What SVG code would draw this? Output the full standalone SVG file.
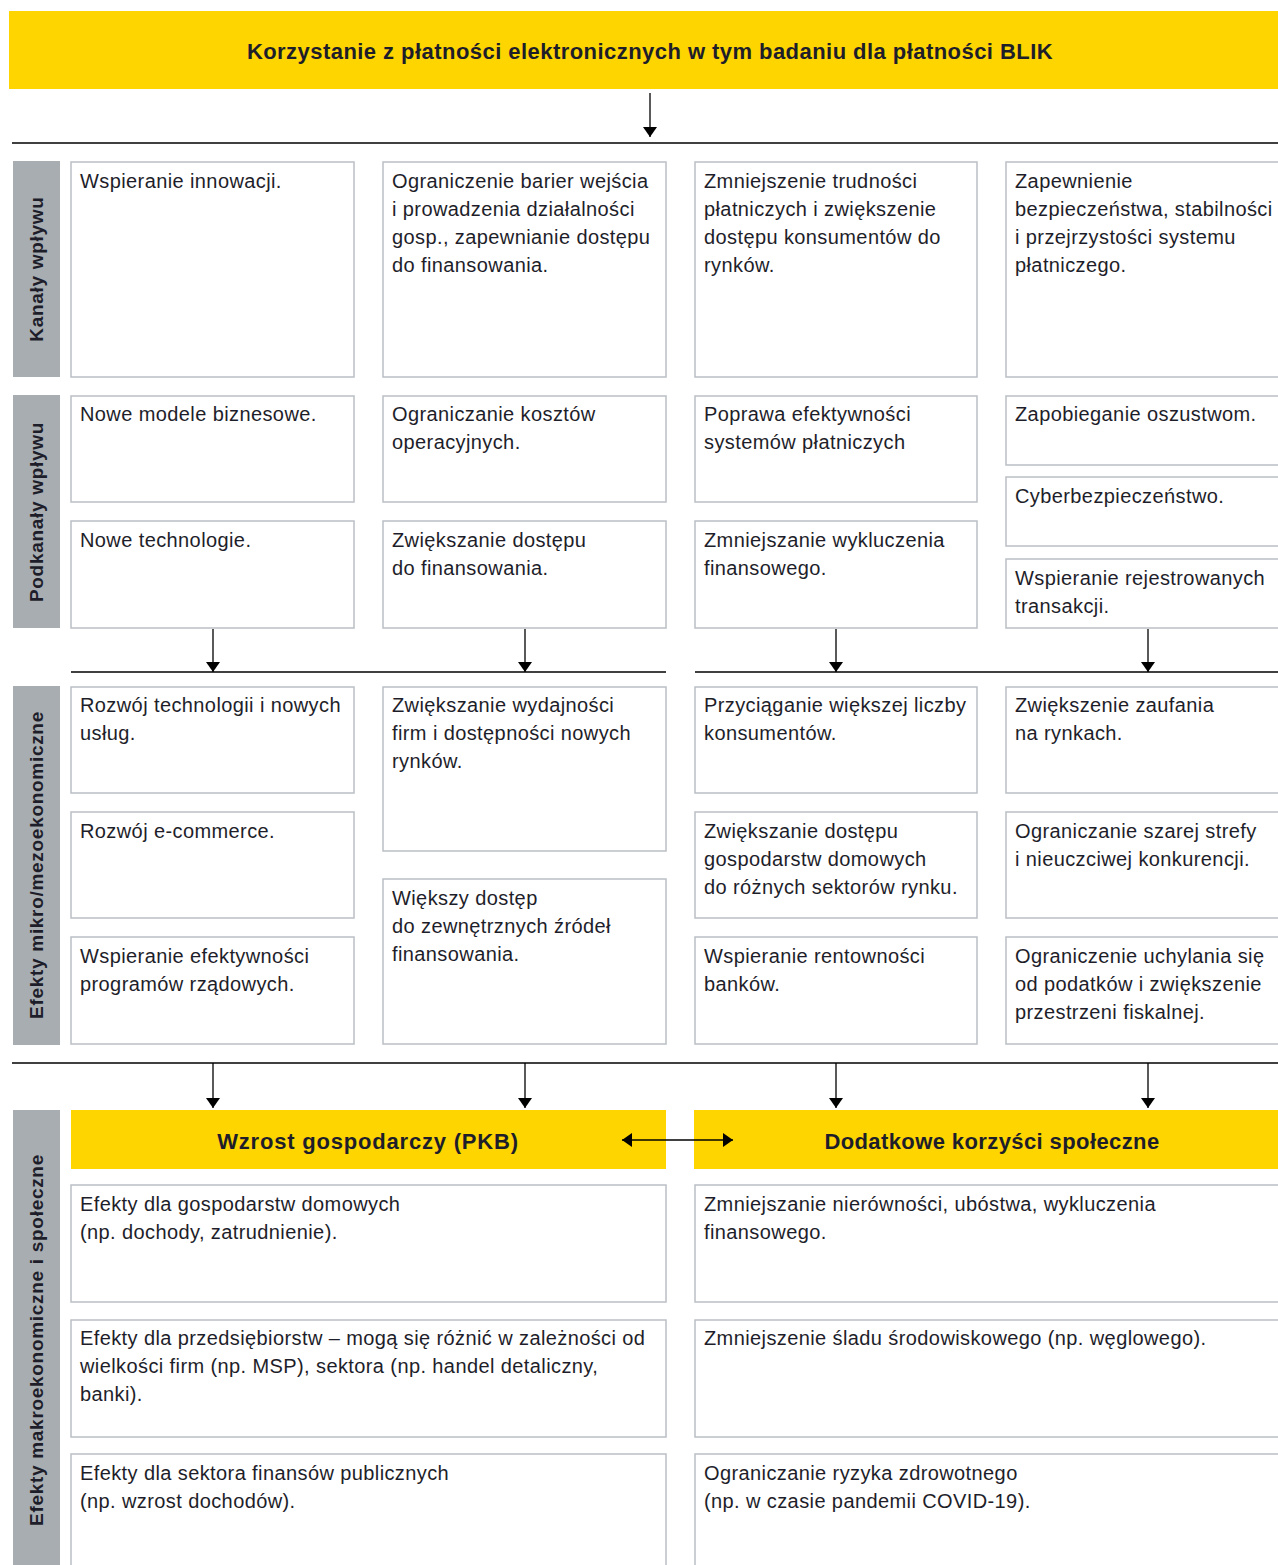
<svg xmlns="http://www.w3.org/2000/svg" width="1278" height="1565" viewBox="0 0 1278 1565">
<defs>
<style>
.bx{fill:#fff;stroke:#babfc4;stroke-width:1.5}
.side{fill:#a8adb2}
.yel{fill:#ffd500}
.t{font-family:"Liberation Sans",Arial,sans-serif;font-size:20px;letter-spacing:0.4px;fill:#1e1e2a}
.hb{font-family:"Liberation Sans",Arial,sans-serif;font-size:22px;font-weight:bold;fill:#1e1e2a;text-anchor:middle}
.sl{font-family:"Liberation Sans",Arial,sans-serif;font-size:19px;letter-spacing:0.7px;font-weight:bold;fill:#1e1e2a;text-anchor:middle}
.ln{stroke:#000;stroke-width:1.6;fill:none}
.ar{stroke:#000;stroke-width:1.3;fill:none}
</style>
<marker id="ah" viewBox="0 0 10 14" refX="10" refY="7" markerWidth="10" markerHeight="14" markerUnits="userSpaceOnUse" orient="auto">
<path d="M0,0 L10,7 L0,14 z" fill="#000"/>
</marker>
<marker id="as" viewBox="0 0 10 14" refX="0" refY="7" markerWidth="10" markerHeight="14" markerUnits="userSpaceOnUse" orient="auto">
<path d="M10,0 L0,7 L10,14 z" fill="#000"/>
</marker>
</defs>
<rect width="1278" height="1565" fill="#fff"/>

<g id="title">
<rect class="yel" x="9" y="11" width="1269" height="78"/>
<text class="hb" x="650" y="59" style="letter-spacing:0.45px">Korzystanie z płatności elektronicznych w tym badaniu dla płatności BLIK</text>
</g>

<g id="side-labels">
<g id="side-kanaly"><rect class="side" x="13" y="161" width="47" height="216"/><text class="sl" transform="translate(43,269) rotate(-90)">Kanały wpływu</text></g>
<g id="side-podkanaly"><rect class="side" x="13" y="395" width="47" height="233"/><text class="sl" transform="translate(43,512) rotate(-90)">Podkanały wpływu</text></g>
<g id="side-mikro"><rect class="side" x="13" y="686" width="47" height="359"/><text class="sl" transform="translate(43,865) rotate(-90)">Efekty mikro/mezoekonomiczne</text></g>
<g id="side-makro"><rect class="side" x="13" y="1110" width="47" height="460"/><text class="sl" transform="translate(43,1340) rotate(-90)">Efekty makroekonomiczne i społeczne</text></g>
</g>

<g id="connectors">
<line class="ln" x1="12" y1="143" x2="1278" y2="143"/>
<line class="ar" x1="650" y1="93" x2="650" y2="137" marker-end="url(#ah)"/>
<line class="ln" x1="71" y1="672" x2="666" y2="672"/>
<line class="ln" x1="695" y1="672" x2="1278" y2="672"/>
<line class="ar" x1="213" y1="629" x2="213" y2="672" marker-end="url(#ah)"/>
<line class="ar" x1="525" y1="629" x2="525" y2="672" marker-end="url(#ah)"/>
<line class="ar" x1="836" y1="629" x2="836" y2="672" marker-end="url(#ah)"/>
<line class="ar" x1="1148" y1="629" x2="1148" y2="672" marker-end="url(#ah)"/>
<line class="ln" x1="12" y1="1063" x2="1278" y2="1063"/>
<line class="ar" x1="213" y1="1063" x2="213" y2="1108" marker-end="url(#ah)"/>
<line class="ar" x1="525" y1="1063" x2="525" y2="1108" marker-end="url(#ah)"/>
<line class="ar" x1="836" y1="1063" x2="836" y2="1108" marker-end="url(#ah)"/>
<line class="ar" x1="1148" y1="1063" x2="1148" y2="1108" marker-end="url(#ah)"/>
</g>

<g id="k1"><rect class="bx" x="71" y="162" width="283" height="215"/><text class="t" x="80" y="188">Wspieranie innowacji.</text></g>
<g id="k2"><rect class="bx" x="383" y="162" width="283" height="215"/><text class="t" x="392" y="188"><tspan x="392">Ograniczenie barier wejścia</tspan><tspan x="392" dy="28">i prowadzenia działalności</tspan><tspan x="392" dy="28">gosp., zapewnianie dostępu</tspan><tspan x="392" dy="28">do finansowania.</tspan></text></g>
<g id="k3"><rect class="bx" x="695" y="162" width="282" height="215"/><text class="t" x="704" y="188"><tspan x="704">Zmniejszenie trudności</tspan><tspan x="704" dy="28">płatniczych i zwiększenie</tspan><tspan x="704" dy="28">dostępu konsumentów do</tspan><tspan x="704" dy="28">rynków.</tspan></text></g>
<g id="k4"><rect class="bx" x="1006" y="162" width="290" height="215"/><text class="t" x="1015" y="188"><tspan x="1015">Zapewnienie</tspan><tspan x="1015" dy="28">bezpieczeństwa, stabilności</tspan><tspan x="1015" dy="28">i przejrzystości systemu</tspan><tspan x="1015" dy="28">płatniczego.</tspan></text></g>

<g id="p1a"><rect class="bx" x="71" y="396" width="283" height="106"/><text class="t" x="80" y="421">Nowe modele biznesowe.</text></g>
<g id="p1b"><rect class="bx" x="71" y="521" width="283" height="107"/><text class="t" x="80" y="547">Nowe technologie.</text></g>
<g id="p2a"><rect class="bx" x="383" y="396" width="283" height="106"/><text class="t" x="392" y="421"><tspan x="392">Ograniczanie kosztów</tspan><tspan x="392" dy="28">operacyjnych.</tspan></text></g>
<g id="p2b"><rect class="bx" x="383" y="521" width="283" height="107"/><text class="t" x="392" y="547"><tspan x="392">Zwiększanie dostępu</tspan><tspan x="392" dy="28">do finansowania.</tspan></text></g>
<g id="p3a"><rect class="bx" x="695" y="396" width="282" height="106"/><text class="t" x="704" y="421"><tspan x="704">Poprawa efektywności</tspan><tspan x="704" dy="28">systemów płatniczych</tspan></text></g>
<g id="p3b"><rect class="bx" x="695" y="521" width="282" height="107"/><text class="t" x="704" y="547"><tspan x="704">Zmniejszanie wykluczenia</tspan><tspan x="704" dy="28">finansowego.</tspan></text></g>
<g id="p4a"><rect class="bx" x="1006" y="396" width="290" height="69"/><text class="t" x="1015" y="421">Zapobieganie oszustwom.</text></g>
<g id="p4b"><rect class="bx" x="1006" y="477" width="290" height="69"/><text class="t" x="1015" y="503">Cyberbezpieczeństwo.</text></g>
<g id="p4c"><rect class="bx" x="1006" y="559" width="290" height="69"/><text class="t" x="1015" y="585"><tspan x="1015">Wspieranie rejestrowanych</tspan><tspan x="1015" dy="28">transakcji.</tspan></text></g>

<g id="m1a"><rect class="bx" x="71" y="687" width="283" height="106"/><text class="t" x="80" y="712"><tspan x="80">Rozwój technologii i nowych</tspan><tspan x="80" dy="28">usług.</tspan></text></g>
<g id="m1b"><rect class="bx" x="71" y="812" width="283" height="106"/><text class="t" x="80" y="838">Rozwój e-commerce.</text></g>
<g id="m1c"><rect class="bx" x="71" y="937" width="283" height="107"/><text class="t" x="80" y="963"><tspan x="80">Wspieranie efektywności</tspan><tspan x="80" dy="28">programów rządowych.</tspan></text></g>
<g id="m2a"><rect class="bx" x="383" y="687" width="283" height="164"/><text class="t" x="392" y="712"><tspan x="392">Zwiększanie wydajności</tspan><tspan x="392" dy="28">firm i dostępności nowych</tspan><tspan x="392" dy="28">rynków.</tspan></text></g>
<g id="m2b"><rect class="bx" x="383" y="879" width="283" height="165"/><text class="t" x="392" y="905"><tspan x="392">Większy dostęp</tspan><tspan x="392" dy="28">do zewnętrznych źródeł</tspan><tspan x="392" dy="28">finansowania.</tspan></text></g>
<g id="m3a"><rect class="bx" x="695" y="687" width="282" height="106"/><text class="t" x="704" y="712"><tspan x="704">Przyciąganie większej liczby</tspan><tspan x="704" dy="28">konsumentów.</tspan></text></g>
<g id="m3b"><rect class="bx" x="695" y="812" width="282" height="106"/><text class="t" x="704" y="838"><tspan x="704">Zwiększanie dostępu</tspan><tspan x="704" dy="28">gospodarstw domowych</tspan><tspan x="704" dy="28">do różnych sektorów rynku.</tspan></text></g>
<g id="m3c"><rect class="bx" x="695" y="937" width="282" height="107"/><text class="t" x="704" y="963"><tspan x="704">Wspieranie rentowności</tspan><tspan x="704" dy="28">banków.</tspan></text></g>
<g id="m4a"><rect class="bx" x="1006" y="687" width="290" height="106"/><text class="t" x="1015" y="712"><tspan x="1015">Zwiększenie zaufania</tspan><tspan x="1015" dy="28">na rynkach.</tspan></text></g>
<g id="m4b"><rect class="bx" x="1006" y="812" width="290" height="106"/><text class="t" x="1015" y="838"><tspan x="1015">Ograniczanie szarej strefy</tspan><tspan x="1015" dy="28">i nieuczciwej konkurencji.</tspan></text></g>
<g id="m4c"><rect class="bx" x="1006" y="937" width="290" height="107"/><text class="t" x="1015" y="963"><tspan x="1015">Ograniczenie uchylania się</tspan><tspan x="1015" dy="28">od podatków i zwiększenie</tspan><tspan x="1015" dy="28">przestrzeni fiskalnej.</tspan></text></g>

<g id="head-pkb"><rect class="yel" x="71" y="1110" width="595" height="59"/><text class="hb" x="368" y="1149" style="letter-spacing:0.8px">Wzrost gospodarczy (PKB)</text></g>
<g id="head-spol"><rect class="yel" x="694" y="1110" width="600" height="59"/><text class="hb" x="992" y="1149" style="letter-spacing:0.4px">Dodatkowe korzyści społeczne</text></g>
<g id="connector-both"><line class="ar" x1="622" y1="1140" x2="733" y2="1140" marker-start="url(#as)" marker-end="url(#ah)"/></g>

<g id="g1"><rect class="bx" x="71" y="1185" width="595" height="117"/><text class="t" x="80" y="1211"><tspan x="80">Efekty dla gospodarstw domowych</tspan><tspan x="80" dy="28">(np. dochody, zatrudnienie).</tspan></text></g>
<g id="g2"><rect class="bx" x="71" y="1320" width="595" height="117"/><text class="t" x="80" y="1345"><tspan x="80">Efekty dla przedsiębiorstw – mogą się różnić w zależności od</tspan><tspan x="80" dy="28">wielkości firm (np. MSP), sektora (np. handel detaliczny,</tspan><tspan x="80" dy="28">banki).</tspan></text></g>
<g id="g3"><rect class="bx" x="71" y="1454" width="595" height="130"/><text class="t" x="80" y="1480"><tspan x="80">Efekty dla sektora finansów publicznych</tspan><tspan x="80" dy="28">(np. wzrost dochodów).</tspan></text></g>
<g id="s1"><rect class="bx" x="695" y="1185" width="600" height="117"/><text class="t" x="704" y="1211"><tspan x="704">Zmniejszanie nierówności, ubóstwa, wykluczenia</tspan><tspan x="704" dy="28">finansowego.</tspan></text></g>
<g id="s2"><rect class="bx" x="695" y="1320" width="600" height="117"/><text class="t" x="704" y="1345">Zmniejszenie śladu środowiskowego (np. węglowego).</text></g>
<g id="s3"><rect class="bx" x="695" y="1454" width="600" height="130"/><text class="t" x="704" y="1480"><tspan x="704">Ograniczanie ryzyka zdrowotnego</tspan><tspan x="704" dy="28">(np. w czasie pandemii COVID-19).</tspan></text></g>
</svg>
